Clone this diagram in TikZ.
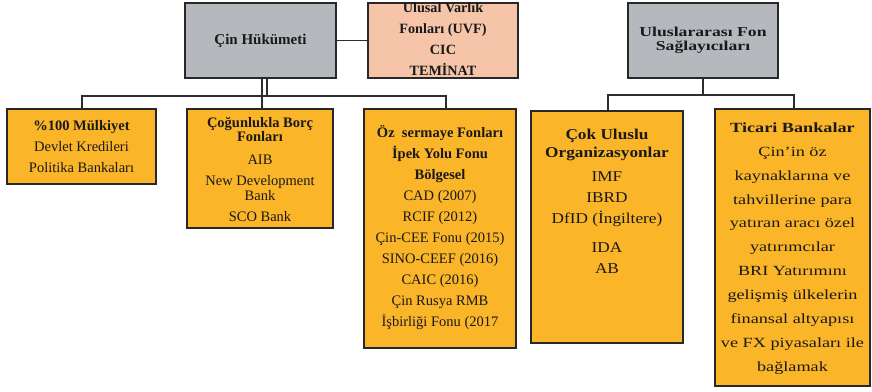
\documentclass[tikz,border=0pt]{standalone}
\usepackage{fontspec}
\setmainfont{Liberation Serif}
\newfontfamily\wideA[FakeStretch=1.15]{Liberation Serif}
\newfontfamily\wideB[FakeStretch=1.3]{Liberation Serif}
\definecolor{orangefill}{RGB}{251,181,40}
\definecolor{grayfill}{RGB}{181,185,189}
\definecolor{pinkfill}{RGB}{246,196,168}
\definecolor{edgec}{RGB}{40,40,40}
\definecolor{connc}{RGB}{45,45,45}
\begin{document}
\begin{tikzpicture}[x=1pt,y=-1pt,
  basebox/.style={draw=edgec,line width=1.6pt,inner sep=0pt},
  obox/.style={basebox,fill=orangefill},
  gbox/.style={basebox,fill=grayfill},
  pbox/.style={basebox,fill=pinkfill},
  txt/.style={align=center,inner sep=0pt,text=black!90},
  conn/.style={draw=connc,line width=1.3pt}]
\useasboundingbox (0,0) rectangle (872,391);

% top boxes
\node[gbox,minimum width=151pt,minimum height=75pt] (gov) at (260.5,40.5) {};
\node[pbox,minimum width=150pt,minimum height=75pt] (uvf) at (443,40.5) {};
\node[gbox,minimum width=150pt,minimum height=75pt] (intl) at (703,40.5) {};

% lower boxes
\node[obox,minimum width=149pt,minimum height=75pt] (b1) at (81.5,146.5) {};
\node[obox,minimum width=146pt,minimum height=119pt] (b2) at (260,168.5) {};
\node[obox,minimum width=152pt,minimum height=239pt] (b3) at (440,228.5) {};
\node[obox,minimum width=152pt,minimum height=232pt] (b4) at (607,227) {};
\node[obox,minimum width=155pt,minimum height=277pt] (b5) at (792.5,247.5) {};

% texts
\node[txt,font=\bfseries\fontsize{15}{21}\selectfont] (tgov) at (gov.center) {Çin Hükümeti};
\node[txt,font=\bfseries\fontsize{14.2}{21}\selectfont] (tuvf) at (443,39) {Ulusal Varlık\\Fonları (UVF)\\CIC\\TEMİNAT};
\node[txt,font=\wideB\bfseries\fontsize{13.6}{14}\selectfont] (tintl) at (703,40) {Uluslararası Fon\\Sağlayıcıları};

\node[txt,font=\fontsize{14.5}{21}\selectfont] (tb1) at (b1.center) {{\bfseries \%100 Mülkiyet}\\Devlet Kredileri\\Politika Bankaları};
\node[txt,font=\fontsize{14.5}{21}\selectfont] (tb2) at (260,169.5) {{\bfseries Çoğunlukla Borç}\\[-7pt]{\bfseries Fonları}\\[2pt]AIB\\New Development\\[-6pt]Bank\\SCO Bank};
\node[txt,font=\fontsize{14.5}{21}\selectfont] (tb3) at (440,227.5) {{\bfseries Öz\ \ sermaye Fonları}\\{\bfseries İpek Yolu Fonu}\\{\bfseries Bölgesel}\\CAD (2007)\\RCIF (2012)\\Çin-CEE Fonu (2015)\\SINO-CEEF (2016)\\CAIC (2016)\\Çin Rusya RMB\\İşbirliği Fonu (2017};
\node[txt,anchor=north,font=\wideA\fontsize{15}{21}\selectfont] (tb4) at (607,129) {{\bfseries Çok Uluslu}\\[-3pt]{\bfseries Organizasyonlar}\\[3pt]IMF\\IBRD\\DfID (İngiltere)\\[8pt]IDA\\AB};
\node[txt,font=\wideB\fontsize{14}{23.9}\selectfont] (tb5) at (792.5,248.5) {{\bfseries Ticari Bankalar}\\Çin’in öz\\kaynaklarına ve\\tahvillerine para\\yatıran aracı özel\\yatırımcılar\\BRI Yatırımını\\gelişmiş ülkelerin\\finansal altyapısı\\ve FX piyasaları ile\\bağlamak};

% connectors: left group
\draw[conn] (gov.east) -- (uvf.west);
\coordinate (busA) at (82,96);
\coordinate (busB) at (446,96);
\coordinate (busG) at (267,96);
\coordinate (busM) at (262,96);
\draw[conn] (busM |- gov.south) -- (busM |- b2.north);
\draw[conn] (busG |- gov.south) -- (busG);
\draw[conn] (busA |- b1.north) -- (busA) -- (busB) -- (busB |- b3.north);

% connectors: right group
\coordinate (busC) at (608,95);
\coordinate (busD) at (794,95);
\draw[conn] (intl.south) -- (intl.south |- busC);
\draw[conn] (busC |- b4.north) -- (busC) -- (busD) -- (busD |- b5.north);
\end{tikzpicture}
\end{document}
